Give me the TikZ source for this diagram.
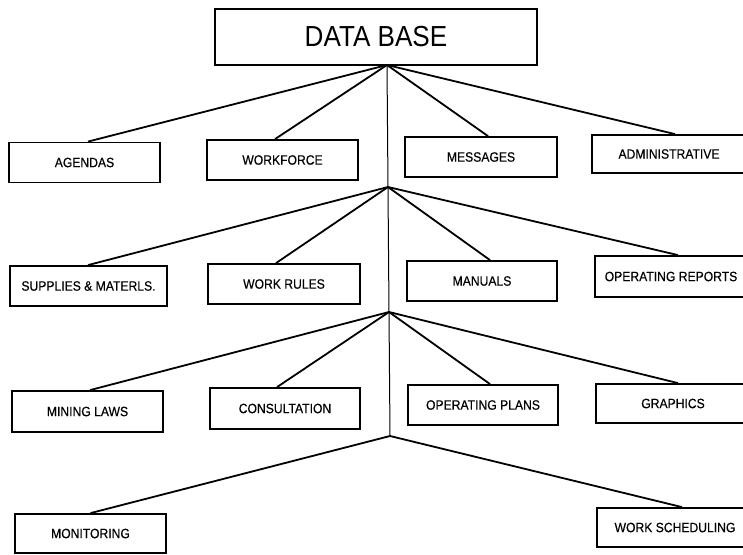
\documentclass[tikz,border=0pt]{standalone}
\usepackage{fontspec}
\setmainfont{Liberation Sans}
\newfontfamily\narrowfont[FakeStretch=0.9,FakeBold=0.4]{Liberation Sans}
\newfontfamily\titlefont[FakeStretch=0.9]{Liberation Sans}
\begin{document}
\begin{tikzpicture}[x=1pt,y=-1pt,
  box/.style={draw, line width=1.8pt, minimum width=151pt, minimum height=40pt, inner sep=0pt,
    font=\narrowfont\fontsize{13.5}{15}\selectfont},
  conn/.style={line width=1.8pt},
  trunk/.style={line width=1pt}]
\useasboundingbox (0,0) rectangle (743,554);
\clip (0,0) rectangle (743,554);
\node[draw, line width=1.8pt, minimum width=322pt, minimum height=56pt, inner sep=0pt,
  font=\titlefont\fontsize{29}{33}\selectfont] (db) at (376,37) {\raisebox{-3pt}{DATA BASE}};
% hubs
\coordinate (h1) at (387,65);
\coordinate (h2) at (388,187);
\coordinate (h3) at (389,312);
\coordinate (h4) at (390,436);
% row 1
\node[box] (agendas) at (84.5,162.5) {AGENDAS};
\node[box] (workforce) at (282.5,160) {WORKFORCE};
\node[box, minimum width=152pt] (messages) at (481,157) {MESSAGES};
\node[box, minimum width=154pt, minimum height=38pt] (admin) at (669,154) {ADMINISTRATIVE};
% row 2
\node[box, minimum width=157pt] (supplies) at (88.5,286) {SUPPLIES \& MATERLS.};
\node[box, minimum width=152pt] (workrules) at (284,284) {WORK RULES};
\node[box, minimum width=150pt] (manuals) at (482,281) {MANUALS};
\node[box, minimum width=152pt, minimum height=41pt] (opreports) at (671,276.5) {OPERATING REPORTS};
% row 3
\node[box, minimum height=41pt] (mininglaws) at (87.5,411.5) {MINING LAWS};
\node[box, minimum width=150pt, minimum height=41pt] (consultation) at (285,408.5) {CONSULTATION};
\node[box, minimum width=150pt] (opplans) at (483,405) {OPERATING PLANS};
\node[box, minimum width=154pt, minimum height=39pt] (graphics) at (673,403.5) {GRAPHICS};
% row 4
\node[box, minimum height=39pt] (monitoring) at (90.5,533.5) {MONITORING};
\node[box, minimum width=156pt, minimum height=39pt] (worksched) at (675,527.5) {WORK SCHEDULING};
% trunk
\draw[trunk] (h1) -- (h4);
% connectors
\draw[conn] (h1) -- ([xshift=3.5pt]agendas.north);
\draw[conn] (h1) -- ([xshift=-7.5pt]workforce.north);
\draw[conn] (h1) -- ([xshift=7pt]messages.north);
\draw[conn] (h1) -- ([xshift=6pt]admin.north);
\draw[conn] (h2) -- ([xshift=-0.5pt]supplies.north);
\draw[conn] (h2) -- ([xshift=-8pt]workrules.north);
\draw[conn] (h2) -- ([xshift=8pt]manuals.north);
\draw[conn] (h2) -- ([xshift=7pt]opreports.north);
\draw[conn] (h3) -- ([xshift=2.5pt]mininglaws.north);
\draw[conn] (h3) -- ([xshift=-8pt]consultation.north);
\draw[conn] (h3) -- ([xshift=7pt]opplans.north);
\draw[conn] (h3) -- ([xshift=5pt]graphics.north);
\draw[conn] (h4) -- (monitoring.north);
\draw[conn] (h4) -- ([xshift=7pt]worksched.north);
\end{tikzpicture}
\end{document}
